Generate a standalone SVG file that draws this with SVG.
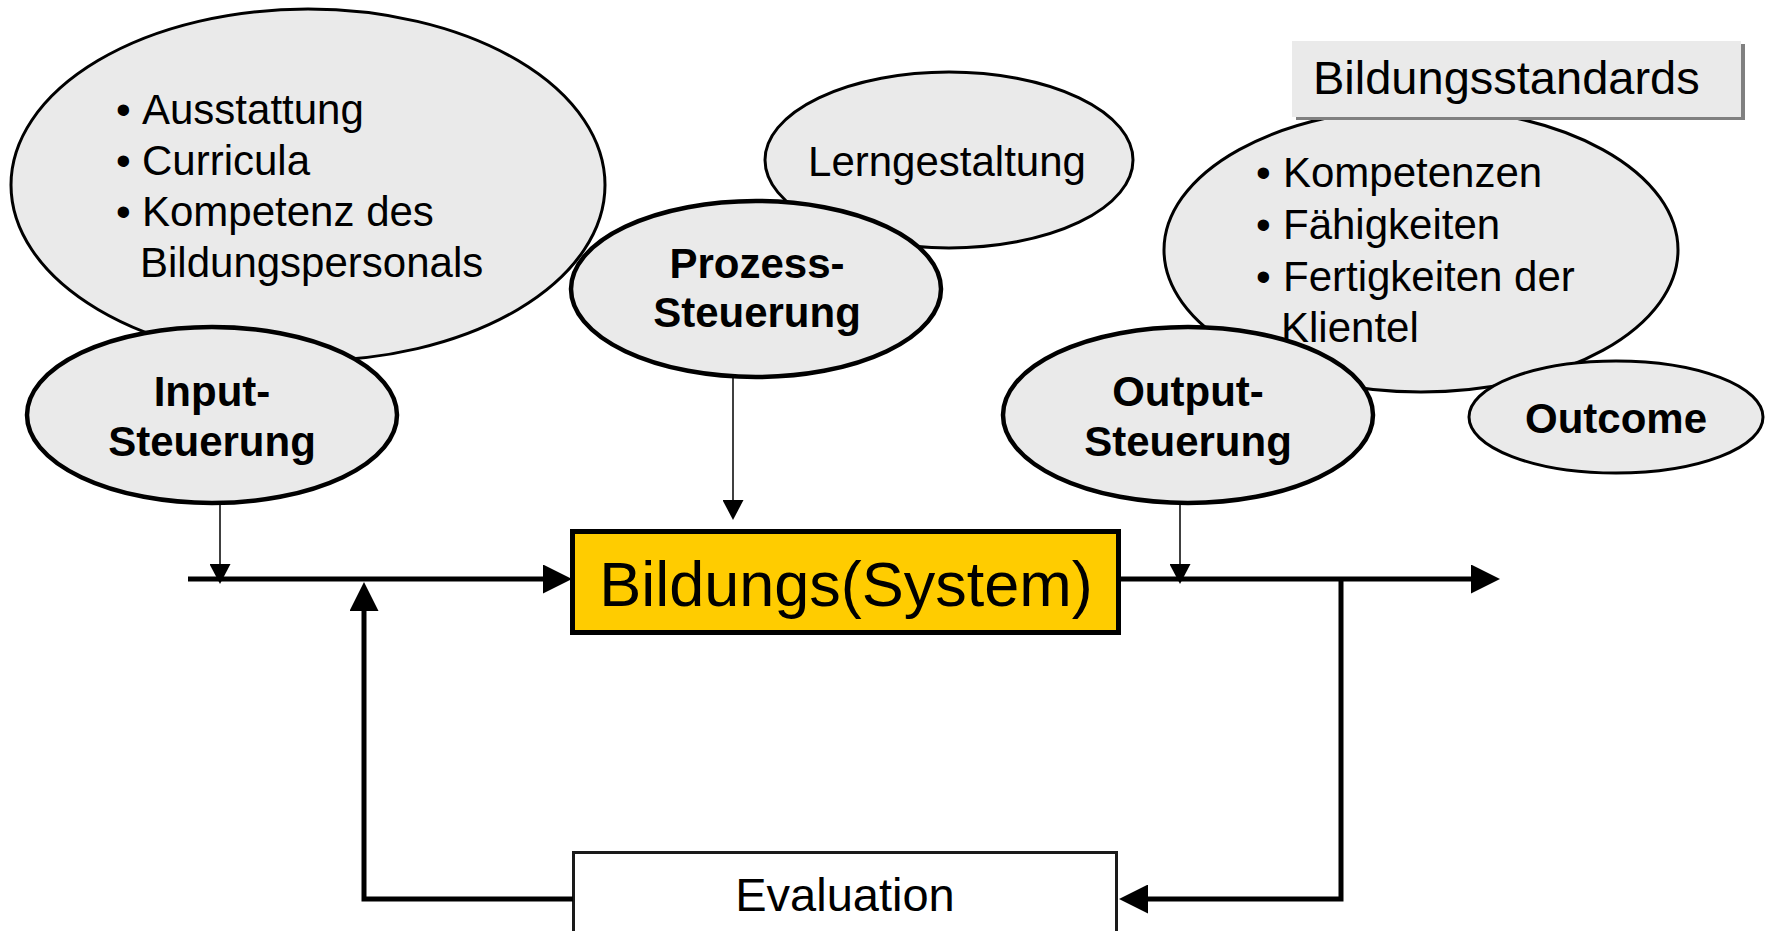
<svg xmlns="http://www.w3.org/2000/svg" width="1776" height="931" viewBox="0 0 1776 931">
  <style>
    .t { font-family: "Liberation Sans", Arial, sans-serif; fill: #000; }
    .r42 { font-size: 42px; }
    .b42 { font-size: 42px; font-weight: bold; }
    .ell { fill: #EAEAEA; stroke: #000; stroke-width: 3; }
    .ellb { fill: #EAEAEA; stroke: #000; stroke-width: 4.5; }
    .thick { fill: none; stroke: #000; stroke-width: 5; stroke-linejoin: miter; }
    .thin { fill: none; stroke: #000; stroke-width: 1.5; }
  </style>
  <defs>
    <marker id="bigArrow" markerUnits="userSpaceOnUse" markerWidth="29" markerHeight="29" refX="2" refY="14.5" orient="auto">
      <path d="M0,0 L29,14.5 L0,29 Z" fill="#000"/>
    </marker>
    <marker id="smallArrow" markerUnits="userSpaceOnUse" markerWidth="20" markerHeight="21" refX="2" refY="10.5" orient="auto">
      <path d="M0,0 L20,10.5 L0,21 Z" fill="#000"/>
    </marker>
  </defs>
  <rect width="1776" height="931" fill="#fff"/>

  <!-- Input details ellipse -->
  <g id="input-details">
    <ellipse class="ell" cx="308" cy="185" rx="297" ry="176"/>
    <text class="t r42"><tspan x="116" y="124">•</tspan><tspan x="142" y="124">Ausstattung</tspan></text>
    <text class="t r42"><tspan x="116" y="175">•</tspan><tspan x="142" y="175">Curricula</tspan></text>
    <text class="t r42"><tspan x="116" y="226">•</tspan><tspan x="142" y="226">Kompetenz des</tspan></text>
    <text class="t r42" x="140" y="277">Bildungspersonals</text>
  </g>

  <g id="input-steuerung">
    <ellipse class="ellb" cx="212" cy="415" rx="185" ry="88"/>
    <text class="t b42" text-anchor="middle" x="212" y="406">Input-</text>
    <text class="t b42" text-anchor="middle" x="212" y="456">Steuerung</text>
  </g>

  <g id="lerngestaltung">
    <ellipse class="ell" cx="949" cy="160" rx="184" ry="88"/>
    <text class="t r42" text-anchor="middle" x="947" y="176">Lerngestaltung</text>
  </g>

  <g id="prozess-steuerung">
    <ellipse class="ellb" cx="756" cy="289" rx="185" ry="88"/>
    <text class="t b42" text-anchor="middle" x="757" y="278">Prozess-</text>
    <text class="t b42" text-anchor="middle" x="757" y="327">Steuerung</text>
  </g>

  <g id="output-details">
    <ellipse class="ell" cx="1421" cy="250" rx="257" ry="142"/>
  </g>

  <g id="bildungsstandards">
    <rect x="1296" y="44" width="449" height="76" fill="#808080"/>
    <rect x="1292" y="41" width="449" height="76" fill="#EAEAEA"/>
    <text class="t" style="font-size:47px" x="1313" y="94">Bildungsstandards</text>
  </g>

  <g id="output-steuerung">
    <ellipse class="ellb" cx="1188" cy="415" rx="185" ry="88"/>
    <text class="t b42" text-anchor="middle" x="1188" y="406">Output-</text>
    <text class="t b42" text-anchor="middle" x="1188" y="456">Steuerung</text>
  </g>

  <g id="output-details-text">
    <text class="t r42"><tspan x="1256" y="187">•</tspan><tspan x="1283" y="187">Kompetenzen</tspan></text>
    <text class="t r42"><tspan x="1256" y="239">•</tspan><tspan x="1283" y="239">Fähigkeiten</tspan></text>
    <text class="t r42"><tspan x="1256" y="291">•</tspan><tspan x="1283" y="291">Fertigkeiten der</tspan></text>
    <text class="t r42" x="1281" y="342">Klientel</text>
  </g>

  <g id="outcome">
    <ellipse class="ell" cx="1616" cy="417" rx="147" ry="56"/>
    <text class="t b42" text-anchor="middle" x="1616" y="433">Outcome</text>
  </g>

  <g id="bildungssystem">
    <rect x="572.5" y="531.5" width="546" height="101" fill="#FFCC00" stroke="#000" stroke-width="5"/>
    <text class="t" style="font-size:63px" text-anchor="middle" x="846" y="606">Bildungs(System)</text>
  </g>

  <g id="evaluation">
    <rect x="573.5" y="852.5" width="543" height="90" fill="#fff" stroke="#1a1a1a" stroke-width="3"/>
    <text class="t" style="font-size:47px" text-anchor="middle" x="845" y="911">Evaluation</text>
  </g>

  <g id="connectors">
    <path class="thick" d="M188,579 H545" marker-end="url(#bigArrow)"/>
    <path class="thick" d="M1121,579 H1473" marker-end="url(#bigArrow)"/>
    <path class="thick" d="M1341,579 V899 H1146" marker-end="url(#bigArrow)"/>
    <path class="thick" d="M573,899 H364 V609" marker-end="url(#bigArrow)"/>
    <path class="thin" d="M220,505 V566" marker-end="url(#smallArrow)"/>
    <path class="thin" d="M733,378 V502" marker-end="url(#smallArrow)"/>
    <path class="thin" d="M1180,505 V566" marker-end="url(#smallArrow)"/>
  </g>
</svg>
